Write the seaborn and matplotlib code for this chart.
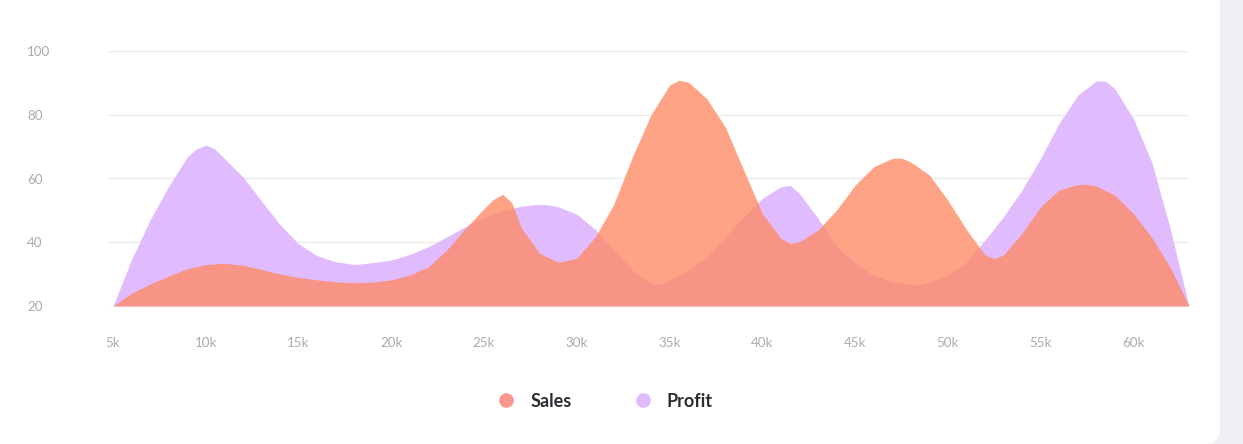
import matplotlib
matplotlib.use('Agg')
import matplotlib.pyplot as plt
import matplotlib.patches as mpatches
from matplotlib.lines import Line2D
from matplotlib.transforms import IdentityTransform
import seaborn as sns
import pandas as pd

# values (x in thousands), extra readings near peaks and troughs
sales_x = [5, 6, 7, 8, 9, 10, 11, 12, 13, 14, 15, 16, 17, 18, 19, 20, 21, 22, 23, 24, 25,
           25.5, 26, 26.5, 27, 28, 29, 30, 31, 32, 33, 34, 35, 35.5, 36, 37, 38, 39, 40, 41,
           41.5, 42, 43, 44, 45, 46, 47, 47.5, 48, 49, 50, 51, 52, 52.5, 53, 54, 55, 56, 57,
           57.5, 58, 59, 60, 61, 62, 63]
sales = [20, 24, 26.9, 29.4, 31.7, 33, 33.4, 32.8, 31.5, 30, 29, 28.2, 27.6, 27.3, 27.5, 28.2,
         29.7, 32.3, 37.6, 44.4, 50.6,
         53.4, 55.1, 52.4, 44.6, 36.5, 33.7, 35, 41.7, 52, 66.8, 80, 89.3, 90.8, 90.3, 85.1,
         76.2, 62.6, 49, 41.2,
         39.6, 40.2, 43.8, 50.1, 57.9, 63.7, 66.3, 66.4, 65.2, 61.1, 53.2, 44, 36, 34.9, 36,
         42.8, 51.1, 56.4, 58.1,
         58.2, 57.6, 54.8, 49, 41.5, 32, 20]

profit_x = [5, 6, 7, 8, 9, 9.5, 10, 10.5, 11, 12, 13, 14, 15, 16, 17, 18, 19, 20, 21, 22, 23,
            24, 25, 26, 27, 28, 28.5, 29, 30, 31, 32, 33, 34, 34.5, 35, 36, 37, 38, 39, 40, 41,
            41.5, 42, 43, 44, 45, 46, 47, 48, 48.5, 49, 50, 51, 52, 53, 54, 55, 56, 57, 58,
            58.5, 59, 60, 61, 62, 63]
profit = [20, 34.6, 47, 57.5, 66.8, 69.3, 70.5, 69.2, 66.3, 60.5, 53, 45.5, 39.5, 35.8, 33.9,
          33, 33.6, 34.4, 36.2, 38.6, 41.7,
          44.9, 47.8, 49.9, 51.3, 51.9, 51.7, 51.1, 48.8, 44, 37.6, 31.3, 27.1, 26.8, 28.2,
          31.3, 35.5, 41.7, 48, 53.8, 57.4,
          57.8, 55.3, 47.5, 38.6, 33.4, 29.7, 27.6, 26.8, 26.8, 27.5, 29.7, 33.8, 40.7, 48,
          56.4, 66.3, 77.3, 86.1, 90.6,
          90.5, 88.2, 78.8, 65, 44, 20]

x_ticks = [5, 10, 15, 20, 25, 30, 35, 40, 45, 50, 55, 60]
x_labels = ['5k', '10k', '15k', '20k', '25k', '30k', '35k', '40k', '45k', '50k', '55k', '60k']
y_ticks = [20, 40, 60, 80, 100]

df = pd.concat([
    pd.DataFrame({'x': profit_x, 'value': profit, 'series': 'Profit'}),
    pd.DataFrame({'x': sales_x, 'value': sales, 'series': 'Sales'}),
], ignore_index=True)

sns.set_theme(style='white')
plt.rcParams['font.family'] = ['Lato', 'DejaVu Sans']

W, H = 1243, 444
fig = plt.figure(figsize=(W / 100, H / 100), dpi=100)
fig.patch.set_facecolor('#EEF0F4')

# white card with rounded corner, behind the axes
card = mpatches.FancyBboxPatch((-40, 0), 1260, 500,
                               boxstyle='round,pad=0,rounding_size=14',
                               facecolor='white', edgecolor='none',
                               transform=IdentityTransform(), zorder=-5)
fig.add_artist(card)

ax = fig.add_axes([108 / W, 138 / H, 1081 / W, 255 / H])
ax.patch.set_visible(False)
ax.set_zorder(2)

profit_col = '#E0BBFD'
sales_col = '#FF8A65'
palette = {'Profit': profit_col, 'Sales': sales_col}

sns.lineplot(data=df, x='x', y='value', hue='series', palette=palette,
             legend=False, lw=0, ax=ax, sort=True)
for name, alpha in [('Profit', 1.0), ('Sales', 0.78)]:
    d = df[df['series'] == name]
    ax.fill_between(d['x'], 20, d['value'], color=palette[name], alpha=alpha, lw=0)

ax.set_xlim(5 - 5 / 18.55, 63)
ax.set_ylim(20, 100)
ax.set_xlabel('')
ax.set_ylabel('')

ax.set_yticks(y_ticks)
ax.set_yticklabels([str(v) for v in y_ticks])
ax.set_xticks(x_ticks)
ax.set_xticklabels(x_labels)
ax.grid(axis='y', color='#EBEBEB', lw=1)
ax.grid(axis='x', visible=False)
ax.set_axisbelow(True)
for s in ax.spines.values():
    s.set_visible(False)

ax.tick_params(axis='y', length=0, pad=58.3, labelsize=9.6, labelcolor='#ABABAB')
ax.tick_params(axis='x', length=0, pad=22, labelsize=9.6, labelcolor='#ABABAB')
for lab in ax.get_yticklabels():
    lab.set_horizontalalignment('left')

handles = [Line2D([], [], marker='o', ls='', markersize=9.5, color='#F8978A'),
           Line2D([], [], marker='o', ls='', markersize=9.5, color=profit_col)]
fig.legend(handles, ['Sales', 'Profit'], loc='center', bbox_to_anchor=(605 / W, 1 - 401 / H),
           ncol=2, frameon=False, handlelength=1, handletextpad=0.83, columnspacing=3.43,
           borderpad=0, prop={'weight': 'bold', 'size': 13}, labelcolor='#2B2D33')

fig.savefig('out.png', dpi=100, facecolor=fig.get_facecolor())
